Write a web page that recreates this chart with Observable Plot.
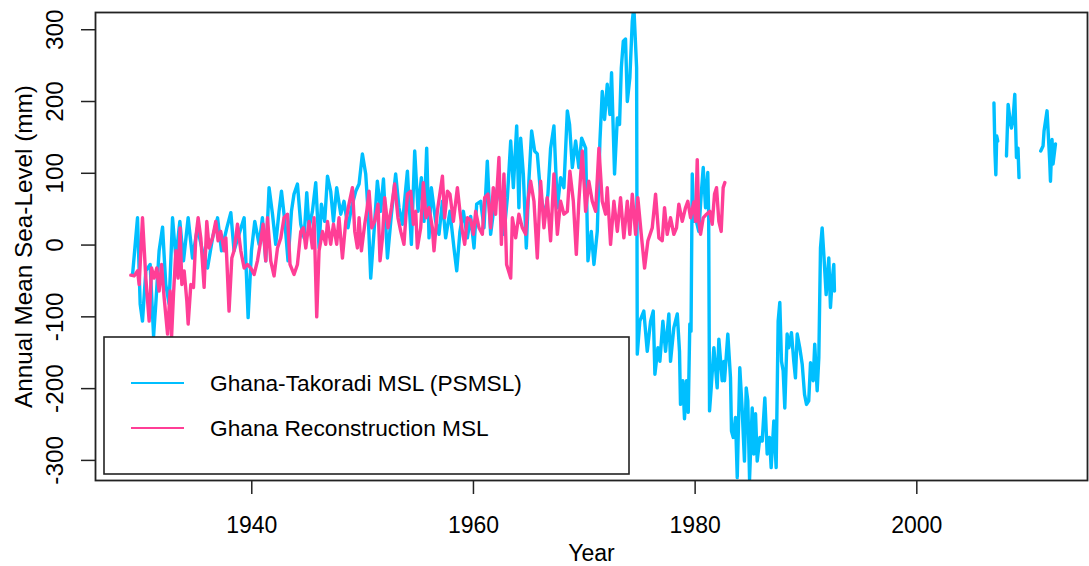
<!DOCTYPE html>
<html>
<head>
<meta charset="utf-8">
<script src="https://cdn.jsdelivr.net/npm/d3@7"></script>
<script src="https://cdn.jsdelivr.net/npm/@observablehq/plot@0.6"></script>
<style>
  html, body { margin: 0; padding: 0; background: #ffffff; }
  #chart svg { display: block; }
</style>
</head>
<body>
<div id="chart"></div>
<script>
// ---- Data ----
const tgYear = [
  1929.24,1929.69,1929.93,1930.14,1930.44,1930.83,1931.14,1931.34,1931.64,1931.95,
  1932.24,1932.54,1932.85,1933.15,1933.51,1933.84,1934.26,1934.65,1935.10,1935.55,
  1936.01,1936.46,1936.91,1937.27,1937.75,1938.11,1938.40,1938.85,1939.31,1939.67,
  1939.97,1940.27,1940.66,1940.96,1941.26,1941.56,1941.87,1942.16,1942.46,1942.68,
  1942.98,1943.27,1943.58,1943.81,1944.12,1944.42,1944.72,1944.96,1945.17,1945.47,
  1945.77,1946.07,1946.28,1946.58,1946.83,1947.12,1947.37,1947.66,1948.03,1948.32,
  1948.68,1948.99,1949.38,1949.68,1949.98,1950.28,1950.49,1950.73,1951.03,1951.33,
  1951.63,1951.88,1952.24,1952.60,1952.98,1953.28,1953.59,1954.04,1954.40,1954.70,
  1955.00,1955.30,1955.54,1955.78,1955.99,1956.20,1956.59,1956.89,1957.20,1957.49,
  1957.88,1958.24,1958.49,1958.78,1959.09,1959.45,1959.75,1960.05,1960.29,1960.65,
  1960.95,1961.25,1961.55,1961.85,1962.16,1962.45,1962.75,1963.06,1963.36,1963.60,
  1963.90,1964.10,1964.26,1964.50,1964.77,1965.00,1965.25,1965.52,1965.76,1966.06,
  1966.42,1966.72,1966.96,1967.26,1967.57,1967.86,1968.16,1968.47,1968.67,1968.92,
  1969.22,1969.51,1969.76,1970.12,1970.33,1970.63,1970.87,1971.17,1971.41,1971.62,
  1971.83,1972.07,1972.31,1972.46,1972.73,1972.98,1973.18,1973.34,1973.52,1973.72,
  1973.88,1974.11,1974.33,1974.47,1974.72,1974.78,1975.01,1975.37,1975.68,1975.98,
  1976.22,1976.37,1976.64,1976.82,1977.09,1977.33,1977.63,1977.78,1978.08,1978.39,
  1978.59,1978.68,1978.89,1979.04,1979.22,1979.38,1979.52,1979.63,1979.74,1979.88,
  1980.04,1980.33,1980.55,1980.73,1980.94,1981.14,1981.22,1981.30,1981.45,1981.69,
  1981.99,1982.14,1982.44,1982.59,1982.65,1982.95,1983.19,1983.28,1983.44,1983.64,
  1983.80,1984.03,1984.25,1984.45,1984.61,1984.75,1984.91,1985.15,1985.29,1985.45,
  1985.60,1985.84,1986.05,1986.29,1986.50,1986.71,1986.86,1987.10,1987.31,1987.49,
  1987.64,1987.79,1987.94,1988.09,1988.30,1988.45,1988.69,1988.90,1989.05,1989.21,
  1989.44,1989.66,1989.87,1990.05,1990.25,1990.41,1990.65,1990.79,1991.01,1991.16,
  1991.31,1991.46,1991.61,1991.82,1992.06,1992.21,1992.36,1992.51,1992.57,
  1999.50,
  2006.96,2007.05,2007.13,2007.21,2007.30,
  2007.70,
  2008.09,2008.24,2008.45,2008.54,2008.68,2008.84,2008.99,2009.13,2009.22,
  2010.20,
  2011.18,2011.39,2011.48,2011.75,2011.99,2012.06,2012.20,2012.29,2012.51
];
const tgMsl = [
  -42,38,-82,-106,-36,-27,-127,-82,-8,25,
  -55,-82,38,-18,33,-22,38,-18,24,-8,
  -32,10,38,-8,24,45,-8,15,38,-101,
  -8,33,1,38,-22,80,43,1,47,75,
  33,-22,47,71,85,29,10,73,24,47,
  87,-4,57,33,96,75,33,80,43,61,
  24,52,75,85,127,99,47,-46,19,89,
  47,92,-18,43,99,52,29,103,1,131,
  47,94,33,135,10,80,33,15,61,10,
  47,-4,-36,19,47,10,40,-4,57,61,
  24,117,15,52,80,61,15,66,145,80,
  166,52,149,99,-4,89,159,131,127,71,
  38,71,135,166,52,94,80,187,168,108,
  145,108,149,135,-22,19,-27,19,145,214,
  175,224,182,240,99,177,168,247,284,287,
  200,233,312,332,247,-152,-106,-92,-148,-106,
  -92,-180,-143,-162,-106,-148,-96,-162,-115,-96,
  -148,-222,-189,-242,-189,-233,-110,-120,99,33,
  38,19,71,108,52,101,43,-231,-199,-143,
  -199,-131,-189,-162,-189,-124,-185,-259,-268,-240,
  -324,-171,-231,-301,-199,-217,-326,-227,-291,-235,
  -301,-268,-273,-213,-291,-268,-310,-245,-310,-106,
  -80,-162,-175,-227,-124,-143,-122,-162,-185,-124,
  -143,-166,-208,-222,-217,-164,-189,-138,-203,-157,
  -4,24,-13,-69,-18,-87,-50,-27,-64,
  null,
  198,130,98,152,145,
  null,
  124,196,170,163,175,210,122,135,94,
  null,
  131,138,159,187,117,89,147,113,141
];

const recYear = [
  1929.09,1929.39,1929.69,1929.84,1930.14,1930.44,1930.74,1930.96,1931.19,1931.43,
  1931.64,1931.86,1932.09,1932.40,1932.63,1932.76,1932.94,1933.15,1933.35,1933.53,
  1933.69,1933.90,1934.14,1934.26,1934.50,1934.74,1934.95,1935.16,1935.40,1935.70,
  1935.94,1936.15,1936.46,1936.75,1936.96,1937.20,1937.50,1937.66,1937.95,1938.20,
  1938.40,1938.71,1939.01,1939.31,1939.61,1939.91,1940.21,1940.51,1940.81,1941.02,
  1941.26,1941.42,1941.71,1942.01,1942.32,1942.62,1942.91,1943.22,1943.45,1943.81,
  1944.12,1944.42,1944.66,1944.87,1945.17,1945.47,1945.62,1945.86,1946.07,1946.38,
  1946.67,1946.83,1947.12,1947.37,1947.66,1947.87,1948.18,1948.48,1948.77,1949.08,
  1949.29,1949.53,1949.68,1949.89,1950.19,1950.37,1950.58,1950.82,1951.09,1951.39,
  1951.57,1951.79,1951.99,1952.29,1952.60,1952.89,1953.19,1953.44,1953.73,1954.04,
  1954.34,1954.58,1954.79,1954.94,1955.24,1955.48,1955.72,1955.99,1956.29,1956.44,
  1956.74,1957.20,1957.40,1957.65,1957.88,1958.19,1958.55,1958.78,1959.00,1959.21,
  1959.45,1959.75,1959.99,1960.20,1960.50,1960.80,1961.01,1961.31,1961.55,1961.79,
  1962.00,1962.30,1962.52,1962.75,1962.99,1963.36,1963.51,1963.81,1964.10,1964.41,
  1964.71,1964.91,1965.16,1965.46,1965.76,1966.06,1966.36,1966.66,1966.96,1967.26,
  1967.57,1967.86,1968.16,1968.47,1968.70,1969.01,1969.28,1969.51,1969.82,1970.12,
  1970.41,1970.72,1971.02,1971.32,1971.62,1971.92,1972.07,1972.37,1972.67,1972.98,
  1973.27,1973.57,1973.88,1974.11,1974.33,1974.63,1974.83,1975.14,1975.44,1975.74,
  1976.13,1976.43,1976.73,1977.03,1977.24,1977.48,1977.78,1978.08,1978.32,1978.53,
  1978.84,1979.13,1979.34,1979.59,1979.88,1980.04,1980.19,1980.33,1980.49,1980.73,
  1981.03,1981.33,1981.54,1981.75,1981.93,1982.14,1982.35,1982.53,1982.68
];
const recMsl = [
  -42,-43,-36,-55,38,-46,-106,-32,-46,-32,
  -64,-27,-73,-124,-64,-129,-68,-8,-46,24,
  -55,-36,-78,-110,-55,-59,10,38,10,-59,
  33,-4,10,33,6,19,-8,10,-92,-18,
  -8,29,-8,-32,-27,-32,-41,-22,6,29,
  -22,38,-22,-43,-4,10,38,43,-27,-41,
  -27,19,24,-4,33,-4,38,-100,-8,19,
  1,33,1,29,1,38,-18,33,57,80,
  19,-4,38,-8,29,47,75,24,33,57,
  -22,10,66,24,52,85,38,19,1,71,
  75,29,47,-4,24,87,38,52,24,-8,
  47,96,38,75,71,33,80,47,19,1,
  38,35,15,47,24,15,66,71,24,80,
  43,122,1,99,-27,-46,38,10,43,24,
  15,61,89,61,-18,89,24,66,6,99,
  15,61,43,47,103,61,-13,61,131,47,
  89,61,47,135,61,43,80,1,61,19,
  66,10,61,15,71,15,66,15,-32,6,
  24,71,10,6,52,15,38,15,24,57,
  33,52,61,38,60,33,119,33,15,38,
  43,47,29,71,80,33,19,80,87
];

const xTicks = [1940, 1960, 1980, 2000];
const yTicks = [-300, -200, -100, 0, 100, 200, 300];
const seriesNames = ["Ghana-Takoradi MSL (PSMSL)", "Ghana Reconstruction MSL"];
const seriesColors = ["#00BFFF", "#FF3E96"];
const xTitle = "Year";
const yTitle = "Annual Mean Sea-Level (mm)";

// ---- Build tables ----
const takoradi = tgYear.map((year, i) => ({year, msl: tgMsl[i]}));
const recon = recYear.map((year, i) => ({year, msl: recMsl[i]}));

const FONT = "'Liberation Sans', Arial, Helvetica, sans-serif";
const FS = 23;     // horizontal texts
const FSR = 24.3;  // rotated texts

const svg = Plot.plot({
  width: 1089,
  height: 566,
  marginLeft: 95,
  marginRight: 2,
  marginTop: 12,
  marginBottom: 86,
  style: {fontFamily: FONT, fontSize: FS + "px", background: "#ffffff", color: "#000"},
  x: {domain: [1925.9, 2015.4], label: null},
  y: {domain: [-328, 324], label: null},
  marks: [
    Plot.line(takoradi, {x: "year", y: "msl", stroke: seriesColors[0], strokeWidth: 3.4, clip: true}),
    Plot.line(recon, {x: "year", y: "msl", stroke: seriesColors[1], strokeWidth: 3.4, clip: true}),
    Plot.frame({stroke: "#222", strokeWidth: 1.8}),
    Plot.axisX({ticks: xTicks, tickSize: 14, tickFormat: () => "", label: null, stroke: "#222", strokeWidth: 1.5}),
    Plot.axisY({ticks: yTicks, tickSize: 14, tickFormat: () => "", label: null, stroke: "#222", strokeWidth: 1.5}),
    Plot.text(xTicks, {x: d => d, text: d => String(d), frameAnchor: "bottom", dy: 45, textAnchor: "middle", lineAnchor: "middle", fontSize: FS, fill: "#000"}),
    Plot.text(yTicks, {y: d => d, text: d => String(d), frameAnchor: "left", dx: -40, rotate: -90, textAnchor: "middle", lineAnchor: "middle", fontSize: FSR, fill: "#000"}),
    Plot.text([xTitle], {text: d => d, frameAnchor: "bottom", dy: 73, textAnchor: "middle", lineAnchor: "middle", fontSize: FS, fill: "#000"}),
    Plot.text([yTitle], {text: d => d, frameAnchor: "left", dx: -71, rotate: -90, textAnchor: "middle", lineAnchor: "middle", fontSize: FSR, fill: "#000"})
  ]
});

// ---- Legend box (layout, drawn over the plot like R's legend) ----
const lg = d3.select(svg).append("g")
  .attr("font-family", FONT).attr("font-size", 22.7).attr("text-anchor", "start");
lg.append("rect").attr("x", 104).attr("y", 337).attr("width", 525).attr("height", 137)
  .attr("fill", "#ffffff").attr("stroke", "#222").attr("stroke-width", 1.6);
seriesNames.forEach((name, i) => {
  const cy = 383 + i * 45;
  lg.append("line").attr("x1", 131).attr("x2", 184).attr("y1", cy).attr("y2", cy)
    .attr("stroke", seriesColors[i]).attr("stroke-width", 1.8);
  lg.append("text").attr("x", 210).attr("y", cy).attr("dy", "0.35em")
    .attr("text-anchor", "start").attr("fill", "#000").text(name);
});

document.getElementById("chart").appendChild(svg);
</script>
</body>
</html>
